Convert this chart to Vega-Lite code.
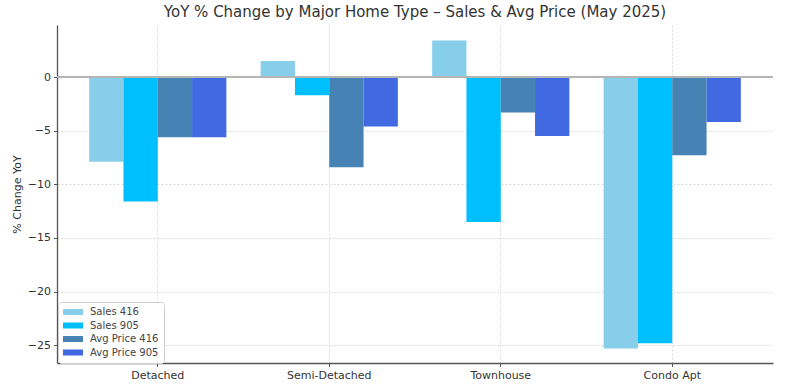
{
  "$schema": "https://vega.github.io/schema/vega-lite/v6.json",
  "width": 716,
  "height": 338,
  "autosize": {"type": "none"},
  "padding": {"left": 57, "top": 25, "right": 15, "bottom": 25},
  "background": "white",
  "config": {
    "font": "DejaVu Sans",
    "view": {"stroke": null},
    "axis": {"labelFont": "DejaVu Sans", "titleFont": "DejaVu Sans"}
  },
  "title": {
    "text": "YoY % Change by Major Home Type – Sales & Avg Price (May 2025)",
    "fontSize": 15,
    "fontWeight": "normal",
    "color": "#333333",
    "anchor": "middle",
    "offset": 5
  },
  "data": {
    "values": [
      {"type": "Detached", "series": "Sales 416", "value": -7.9},
      {"type": "Detached", "series": "Sales 905", "value": -11.6},
      {"type": "Detached", "series": "Avg Price 416", "value": -5.6},
      {"type": "Detached", "series": "Avg Price 905", "value": -5.6},
      {"type": "Semi-Detached", "series": "Sales 416", "value": 1.5},
      {"type": "Semi-Detached", "series": "Sales 905", "value": -1.7},
      {"type": "Semi-Detached", "series": "Avg Price 416", "value": -8.4},
      {"type": "Semi-Detached", "series": "Avg Price 905", "value": -4.6},
      {"type": "Townhouse", "series": "Sales 416", "value": 3.4},
      {"type": "Townhouse", "series": "Sales 905", "value": -13.5},
      {"type": "Townhouse", "series": "Avg Price 416", "value": -3.3},
      {"type": "Townhouse", "series": "Avg Price 905", "value": -5.5},
      {"type": "Condo Apt", "series": "Sales 416", "value": -25.3},
      {"type": "Condo Apt", "series": "Sales 905", "value": -24.8},
      {"type": "Condo Apt", "series": "Avg Price 416", "value": -7.3},
      {"type": "Condo Apt", "series": "Avg Price 905", "value": -4.2}
    ]
  },
  "layer": [
    {
      "mark": {"type": "bar", "strokeWidth": 0},
      "encoding": {
        "x": {
          "field": "type",
          "type": "nominal",
          "sort": ["Detached", "Semi-Detached", "Townhouse", "Condo Apt"],
          "scale": {"paddingInner": 0, "paddingOuter": 0.0875},
          "axis": {
            "title": null,
            "labelAngle": 0,
            "bandPosition": 0.5,
            "grid": true,
            "gridDash": [2, 2],
            "gridColor": "#d8d8d8",
            "gridWidth": 1,
            "domainColor": "#555555",
            "domainWidth": 1.3,
            "tickColor": "#555555",
            "tickSize": 3.5,
            "labelFontSize": 11,
            "labelColor": "#333333",
            "labelPadding": 3
          }
        },
        "xOffset": {
          "field": "series",
          "type": "nominal",
          "sort": ["Sales 416", "Sales 905", "Avg Price 416", "Avg Price 905"],
          "scale": {"paddingInner": 0, "paddingOuter": 0.5}
        },
        "y": {
          "field": "value",
          "type": "quantitative",
          "scale": {"domain": [-26.65, 4.85], "nice": false, "zero": false},
          "axis": {
            "title": "% Change YoY",
            "values": [-25, -20, -15, -10, -5, 0],
            "labelExpr": "replace(datum.label, '-', '\u2212')",
            "grid": true,
            "gridDash": [2, 2],
            "gridColor": "#d8d8d8",
            "gridWidth": 1,
            "domainColor": "#555555",
            "domainWidth": 1.3,
            "tickColor": "#555555",
            "tickSize": 3.5,
            "labelFontSize": 11,
            "labelColor": "#333333",
            "labelPadding": 3,
            "titleFontSize": 11,
            "titleFontWeight": "normal",
            "titleColor": "#333333",
            "titlePadding": 5
          }
        },
        "color": {
          "field": "series",
          "type": "nominal",
          "sort": ["Sales 416", "Sales 905", "Avg Price 416", "Avg Price 905"],
          "scale": {
            "domain": ["Sales 416", "Sales 905", "Avg Price 416", "Avg Price 905"],
            "range": ["#87CEEB", "#00BFFF", "#4682B4", "#4169E1"]
          },
          "legend": {
            "title": null,
            "orient": "none",
            "legendX": 1,
            "legendY": 277,
            "padding": 5,
            "strokeColor": "#d0d0d0",
            "fillColor": "white",
            "cornerRadius": 3,
            "symbolType": "M-1,-0.6H3V0.6H-1Z",
            "symbolSize": 100,
            "symbolStrokeWidth": 0,
            "symbolOpacity": 1,
            "labelFontSize": 10,
            "labelColor": "#444444",
            "labelOffset": 17,
            "rowPadding": 3.5
          }
        }
      }
    },
    {
      "mark": {"type": "rule", "color": "#b5b5b5", "strokeWidth": 1.8},
      "encoding": {"y": {"datum": 0}}
    }
  ]
}
